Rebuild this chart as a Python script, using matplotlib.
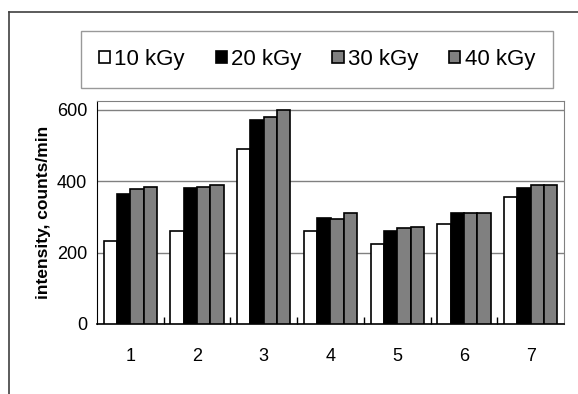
import matplotlib
matplotlib.use("Agg")
import matplotlib.pyplot as plt
import numpy as np
from matplotlib.lines import Line2D

plt.rcParams['font.family'] = ['Liberation Sans', 'DejaVu Sans']

# data
groups = ['1', '2', '3', '4', '5', '6', '7']
doses = ['10 kGy', '20 kGy', '30 kGy', '40 kGy']
kgy10 = [233, 262, 490, 262, 223, 279, 357]
kgy20 = [364, 380, 571, 296, 262, 311, 380]
kgy30 = [378, 384, 580, 295, 268, 311, 390]
kgy40 = [384, 390, 600, 311, 273, 311, 390]
series = [kgy10, kgy20, kgy30, kgy40]
colors = ['white', 'black', '#808080', '#808080']

W, H = 578, 394
fig = plt.figure(figsize=(W / 100, H / 100), dpi=100)
ax = fig.add_axes([97 / W, 1 - 324 / H, (564 - 97) / W, (324 - 101) / H])

x = np.arange(1, len(groups) + 1)
bw = 0.2
for i, (vals, c) in enumerate(zip(series, colors)):
    ax.bar(x + (i - 1.5) * bw, vals, bw, color=c, edgecolor='black',
           linewidth=1.2, label=doses[i], zorder=3)

ax.set_xlim(0.5, 7.5)
ax.set_ylim(0, 625)
ax.set_yticks([0, 200, 400, 600])
ax.yaxis.grid(True, color='#808080', linewidth=1)
ax.set_axisbelow(True)
ax.tick_params(axis='y', length=0, labelsize=13, pad=7)
ax.set_xticks(x)
ax.set_xticklabels(groups)
ax.tick_params(axis='x', length=0, labelsize=13, pad=17)
ax.set_xticks(np.arange(1.5, 7.5, 1), minor=True)
ax.tick_params(axis='x', which='minor', direction='in', length=5, width=1)
for s in ['top', 'right']:
    ax.spines[s].set_color('#808080')
ax.spines['left'].set_color('black')
ax.spines['left'].set_linewidth(0.8)
ax.spines['bottom'].set_linewidth(1.2)
ax.set_ylabel('intensity, counts/min', fontsize=12.5, fontweight='bold', labelpad=4)

leg = fig.legend(loc='center', ncol=4, mode='expand', fontsize=16,
                 bbox_to_anchor=(70 / W, 1 - 91 / H, (564 - 70) / W, 63 / H),
                 fancybox=False, borderpad=0.8, handlelength=0.5,
                 handleheight=0.5, handletextpad=0.2, columnspacing=0.8)
leg.get_frame().set_edgecolor('#808080')
leg.get_frame().set_linewidth(1)

# outer chart frame (cropped on right and bottom)
fig.add_artist(Line2D([9 / W, 1], [1 - 12 / H, 1 - 12 / H], color='#404040', linewidth=1.2))
fig.add_artist(Line2D([9 / W, 9 / W], [0, 1 - 12 / H], color='#404040', linewidth=1.2))

fig.savefig('out.png', dpi=100)
